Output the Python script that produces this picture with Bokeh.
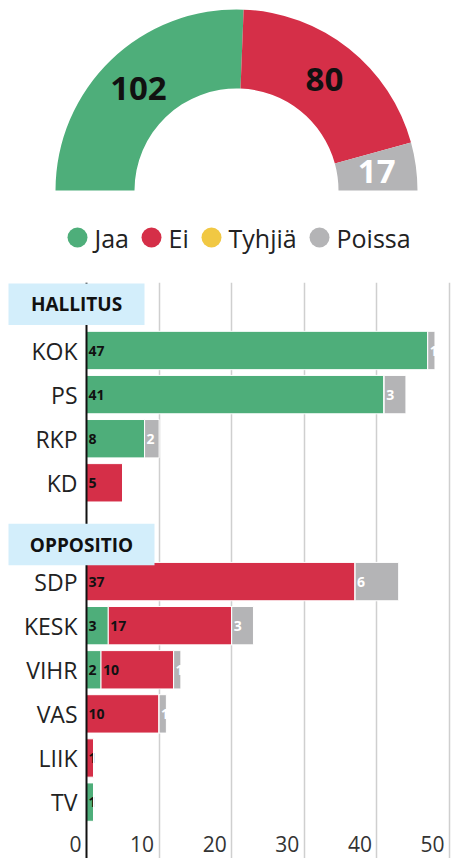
import numpy as np
from bokeh.plotting import figure
from bokeh.layouts import column
from bokeh.models import Range1d, FixedTicker
from bokeh.core.properties import value
from bokeh.embed import file_html
from bokeh.resources import INLINE

# ---------------- data ----------------
vote_labels = ["Jaa", "Ei", "Tyhjiä", "Poissa"]
vote_totals = [102, 80, 0, 17]
vote_colors = ["#4eae7a", "#d52f48", "#f1c843", "#b4b4b6"]
vote_text_colors = ["#111111", "#111111", "#111111", "#ffffff"]

government = ["KOK", "PS", "RKP", "KD"]
opposition = ["SDP", "KESK", "VIHR", "VAS", "LIIK", "TV"]
group_labels = ["HALLITUS", "OPPOSITIO"]
parties = government + opposition
jaa = [47, 41, 8, 0, 0, 3, 2, 0, 0, 1]
ei = [0, 0, 0, 5, 37, 17, 10, 10, 1, 0]
tyhjia = [0, 0, 0, 0, 0, 0, 0, 0, 0, 0]
poissa = [1, 3, 2, 0, 6, 3, 1, 1, 0, 0]
x_ticks = [0, 10, 20, 30, 40, 50]

FONT = value("Open Sans")
W = 470
H1 = 282
H2 = 858 - H1

# ---------------- half donut ----------------
p1 = figure(width=W, height=H1, x_range=Range1d(0, W), y_range=Range1d(0, H1),
            output_backend="svg", toolbar_location=None, min_border=0)
p1.axis.visible = False
p1.grid.visible = False
p1.outline_line_color = None

cx, cy = 236, H1 - 190
r_out, r_in = 181, 102
tot = sum(vote_totals)
cum = np.concatenate([[0], np.cumsum(vote_totals)])
a_hi = np.pi - cum[:-1] / tot * np.pi
a_lo = np.pi - cum[1:] / tot * np.pi
for i, v in enumerate(vote_totals):
    if v <= 0:
        continue
    p1.annular_wedge(x=cx, y=cy, inner_radius=r_in, outer_radius=r_out,
                     start_angle=a_lo[i], end_angle=a_hi[i],
                     fill_color=vote_colors[i], line_color=None)
    mid = (a_lo[i] + a_hi[i]) / 2
    rm = (r_in + r_out) / 2
    p1.text(x=[cx + rm * np.cos(mid)], y=[cy + rm * np.sin(mid)], text=[str(v)],
            text_font=FONT, text_font_size="33px", text_font_style="bold",
            text_color=vote_text_colors[i], text_align="center", text_baseline="middle")

# legend
leg_x = [77, 151, 211, 319]
leg_y = H1 - 237
p1.scatter(x=leg_x, y=[leg_y] * 4, size=20, color=vote_colors, line_color=None)
p1.text(x=[x + 17 for x in leg_x], y=[leg_y] * 4, text=vote_labels,
        text_font=FONT, text_font_size="25px", text_color="#222222",
        text_align="left", text_baseline="middle")

# ---------------- bars ----------------
PX = 7.26          # pixels per seat
X0 = 86            # pixel of zero
ROW = 44.1         # pixels per row
Y0 = 350 - H1      # pixel (in p2) of first row
p2 = figure(width=W, height=H2,
            x_range=Range1d(-X0 / PX, (W - X0) / PX),
            y_range=Range1d((H2 - Y0) / ROW, -Y0 / ROW),
            output_backend="svg", toolbar_location=None, min_border=0)
p2.axis.visible = False
p2.ygrid.visible = False
p2.xgrid.ticker = FixedTicker(ticks=x_ticks[1:])
p2.xgrid.grid_line_color = "#cfcfcf"
p2.xgrid.grid_line_width = 1.5
p2.outline_line_color = None

gap = 1.24
ypos = [i for i in range(len(government))] + \
       [len(government) + gap + i for i in range(len(opposition))]
head_y = [-1.05, len(government) - 1 + (gap + 1) * 0.5 + 0.28]

series = [jaa, ei, tyhjia, poissa]
left = np.zeros(len(parties))
bh = 0.87
for s, vals in enumerate(series):
    vals = np.array(vals, dtype=float)
    p2.hbar(y=ypos, left=left, right=left + vals, height=bh,
            fill_color=vote_colors[s], line_color="white", line_width=1)
    for i, v in enumerate(vals):
        if v > 0:
            p2.text(x=[left[i]], y=[ypos[i]], text=[str(int(v))], x_offset=2,
                    text_font=FONT, text_font_size="14px", text_font_style="bold",
                    text_color=vote_text_colors[s], text_align="left", text_baseline="middle")
    left = left + vals

# zero line
p2.segment(x0=0, y0=p2.y_range.start, x1=0, y1=p2.y_range.end,
           line_color="#111111", line_width=2)

# group header boxes
box_left = (8 - X0) / PX
box_right = [(144 - X0) / PX, (154 - X0) / PX]
box_h = 41.5 / ROW
for g, lab in enumerate(group_labels):
    p2.quad(left=box_left, right=box_right[g], top=head_y[g] - box_h / 2,
            bottom=head_y[g] + box_h / 2, fill_color="#d3eefb", line_color=None)
    p2.text(x=[(box_left + box_right[g]) / 2], y=[head_y[g]], text=[lab],
            text_font=FONT, text_font_size="19px", text_font_style="bold",
            text_color="#111111", text_align="center", text_baseline="middle")

# party names
p2.text(x=[0] * len(parties), y=ypos, text=parties, x_offset=-9,
        text_font=FONT, text_font_size="23px", text_color="#222222",
        text_align="right", text_baseline="middle")

# tick labels
tick_y = (843 - 350) / ROW
p2.text(x=x_ticks, y=[tick_y] * len(x_ticks), text=[str(t) for t in x_ticks], x_offset=-5,
        text_font=FONT, text_font_size="21px", text_color="#333333",
        text_align="right", text_baseline="middle")

layout = column(p1, p2, spacing=0)
open("out.html", "w").write(file_html(layout, INLINE))
